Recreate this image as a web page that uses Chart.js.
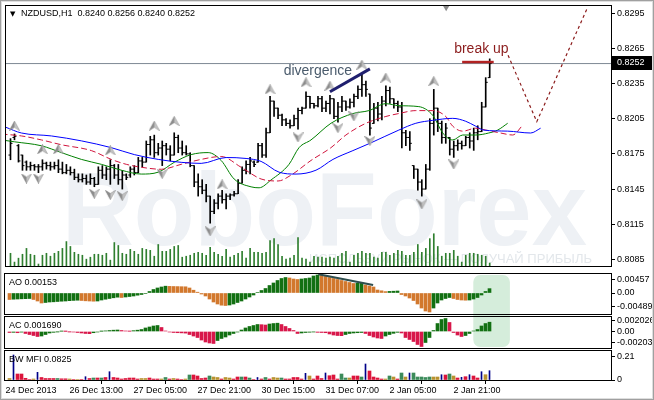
<!DOCTYPE html>
<html><head><meta charset="utf-8">
<script src="https://cdn.jsdelivr.net/npm/chart.js@4.4.1/dist/chart.umd.min.js"></script>
<style>
html,body{margin:0;padding:0;background:#fff;}
#wrap{position:relative;width:654px;height:400px;overflow:hidden;background:#fff;}
#wrap canvas{position:absolute;left:0;}
#frame{position:absolute;left:0;top:0;width:654px;height:400px;box-sizing:border-box;border:1px solid #a0a0a0;box-shadow:inset 0 0 0 1px #dedede;pointer-events:none;z-index:5;}
</style></head><body>
<div id="wrap">
<canvas id="bg" width="654" height="400" style="top:0;z-index:0"></canvas>
<canvas id="cMain" width="654" height="272" style="top:0;z-index:1"></canvas>
<canvas id="cAO" width="654" height="43" style="top:272px;z-index:1"></canvas>
<canvas id="cAC" width="654" height="34" style="top:315px;z-index:1"></canvas>
<canvas id="cMFI" width="654" height="51" style="top:349px;z-index:1"></canvas>
<div id="frame"></div>
</div>
<script>
// ---------------- DATA ----------------
const symbol = 'NZDUSD,H1';
const barOpen = [
.8174,.8189,.8182,.8174,.8168,.8164,.8165,.8164,.8164,.8167,
.8165,.8164,.8165,.8162,.8159,.8161,.8159,.8155,.8153,.8154,
.8151,.8154,.8149,.8161,.8157,.8162,.8165,.8157,.8153,.8157,
.8157,.8162,.8159,.8169,.8168,.8183,.8187,.8176,.8180,.8182,
.8179,.8174,.8189,.8180,.8176,.8175,.8165,.8151,.8147,.8144,
.8139,.8126,.8133,.8139,.8136,.8139,.8140,.8141,.8150,.8161,
.8166,.8168,.8168,.8182,.8174,.8193,.8220,.8214,.8208,.8204,
.8201,.8199,.8205,.8212,.8214,.8224,.8218,.8216,.8222,.8214,
.8218,.8222,.8207,.8215,.8220,.8215,.8219,.8224,.8230,.8234,
.8226,.8201,.8214,.8209,.8220,.8229,.8222,.8218,.8215,.8193,
.8189,.8165,.8162,.8151,.8145,.8162,.8201,.8214,.8201,.8189,
.8189,.8179,.8182,.8184,.8182,.8189,.8186,.8193,.8194,.8215,
.8240];
const barHigh = [
.8188,.8192,.8183,.8174,.8169,.8168,.8166,.8166,.8170,.8168,
.8168,.8168,.8170,.8168,.8166,.8164,.8162,.8158,.8158,.8157,
.8158,.8155,.8164,.8165,.8164,.8170,.8166,.8166,.8161,.8158,
.8164,.8165,.8172,.8172,.8186,.8190,.8191,.8184,.8186,.8184,
.8182,.8193,.8191,.8186,.8182,.8176,.8165,.8158,.8153,.8149,
.8139,.8136,.8141,.8144,.8141,.8141,.8143,.8153,.8164,.8169,
.8172,.8169,.8184,.8184,.8197,.8224,.8220,.8214,.8209,.8205,
.8204,.8208,.8214,.8215,.8228,.8224,.8218,.8224,.8224,.8220,
.8225,.8222,.8219,.8224,.8220,.8222,.8226,.8233,.8243,.8237,
.8226,.8218,.8219,.8224,.8233,.8232,.8222,.8220,.8219,.8195,
.8194,.8165,.8162,.8153,.8166,.8205,.8230,.8214,.8203,.8201,
.8189,.8186,.8187,.8186,.8190,.8193,.8197,.8199,.8219,.8240,
.8256];
const barLow = [
.8170,.8187,.8168,.8161,.8161,.8161,.8161,.8159,.8161,.8162,
.8161,.8162,.8159,.8158,.8158,.8157,.8153,.8151,.8151,.8149,
.8149,.8147,.8149,.8154,.8153,.8149,.8154,.8149,.8145,.8153,
.8155,.8157,.8159,.8164,.8168,.8174,.8172,.8174,.8165,.8174,
.8169,.8174,.8176,.8174,.8174,.8164,.8147,.8139,.8141,.8134,
.8116,.8124,.8128,.8133,.8128,.8136,.8139,.8141,.8150,.8158,
.8158,.8164,.8168,.8172,.8172,.8193,.8207,.8205,.8199,.8199,
.8197,.8199,.8196,.8209,.8214,.8214,.8214,.8215,.8211,.8211,
.8209,.8205,.8202,.8211,.8212,.8214,.8215,.8222,.8224,.8224,
.8191,.8201,.8203,.8204,.8216,.8218,.8214,.8211,.8180,.8182,
.8178,.8154,.8144,.8139,.8145,.8161,.8191,.8194,.8184,.8184,
.8174,.8172,.8178,.8179,.8182,.8180,.8178,.8187,.8194,.8215,
.8240];
const barClose = [
.8184,.8190,.8169,.8165,.8164,.8165,.8164,.8164,.8167,.8165,
.8164,.8165,.8162,.8159,.8161,.8159,.8155,.8153,.8154,.8151,
.8154,.8149,.8161,.8157,.8162,.8165,.8157,.8153,.8157,.8155,
.8162,.8159,.8169,.8168,.8183,.8187,.8176,.8180,.8182,.8179,
.8174,.8189,.8180,.8176,.8175,.8165,.8151,.8147,.8144,.8139,
.8126,.8133,.8139,.8136,.8139,.8140,.8141,.8150,.8161,.8166,
.8169,.8166,.8182,.8174,.8193,.8220,.8214,.8208,.8204,.8201,
.8199,.8205,.8212,.8214,.8224,.8218,.8216,.8222,.8214,.8218,
.8222,.8207,.8215,.8220,.8215,.8219,.8224,.8230,.8234,.8230,
.8197,.8214,.8209,.8220,.8229,.8222,.8218,.8215,.8193,.8189,
.8184,.8162,.8151,.8145,.8162,.8201,.8214,.8201,.8189,.8197,
.8179,.8182,.8184,.8182,.8189,.8186,.8193,.8194,.8215,.8236,
.8252];
const tickVolume = [
780,240,480,720,1080,720,660,120,660,780,
600,780,900,1080,1500,1200,840,720,660,420,
540,720,720,660,780,360,1440,1260,780,720,
1020,900,720,1080,1020,960,600,1320,900,900,
1020,1200,1260,540,600,660,780,840,780,660,
1140,840,720,600,1020,540,660,780,900,480,
1080,840,840,780,840,1560,1680,1320,600,420,
480,660,1740,480,420,240,600,540,540,480,
540,480,600,780,900,240,660,780,900,780,
780,540,480,840,840,660,780,960,900,660,
660,840,1320,840,1080,1680,1980,1200,600,780,
780,960,600,240,660,780,780,720,660,600,
180];
const priceTicks = [0.8085,0.8115,0.8145,0.8175,0.8205,0.8235,0.8265,0.8295];
const timeTickIndex = [-1,15,31,47,63,79,95,111];
const timeTickLabels = ['24 Dec 2013','26 Dec 13:00','27 Dec 05:00','27 Dec 21:00','30 Dec 15:00','31 Dec 07:00','2 Jan 05:00','2 Jan 21:00'];

// Alligator lines [bar index, price]
const jawLine = [[-1.25,.81978],[2.75,.81928],[10.25,.81903],[17.75,.81861],[25.25,.81803],[31,.81744],[37,.81703],[42.75,.81678],[47.75,.81669],[54,.81719],[59,.81711],[62.75,.81686],[67.25,.81594],[71.5,.81578],[76.5,.81611],[80.75,.81703],[85.75,.81778],[90.25,.81844],[97.25,.81953],[101.5,.82011],[105.75,.82036],[110.75,.82053],[114,.82028],[116.5,.81986],[118.5,.81953],[124.5,.81944],[130.25,.81928],[132.75,.81969]];
const teethLine = [[-2.25,.81919],[2.75,.81903],[7.75,.81869],[12.75,.81828],[20.25,.81778],[25.25,.81703],[29,.81661],[32.75,.81636],[37.75,.81619],[42.75,.81661],[47.75,.81703],[52.75,.81728],[57.75,.81636],[62.75,.81536],[67,.81519],[70.25,.81569],[75.25,.81694],[80.25,.81803],[84,.81911],[89,.82011],[94,.82069],[97.25,.82094],[101.5,.82119],[105.75,.82119],[109,.82069],[110.75,.81986],[113.25,.81944],[116.5,.81969],[119,.81953],[122.75,.81928],[125.75,.81911],[128.25,.81994]];
const lipsLine = [[-2.25,.81869],[1,.81853],[7.75,.81819],[12.75,.81761],[17.75,.81703],[22.75,.81661],[27.75,.81611],[32.75,.81578],[37,.81594],[41,.81678],[45.25,.81744],[49.5,.81761],[52.75,.81694],[56,.81536],[60.25,.81469],[62.25,.81461],[65.25,.81528],[69.75,.81661],[72.25,.81803],[75.25,.81869],[80.25,.82011],[85.75,.82094],[89.75,.82119],[94,.82178],[97.25,.82161],[102.25,.82153],[105.75,.82078],[108.25,.81928],[110.75,.81869],[113.25,.81911],[116.5,.81911],[119.75,.81928],[122,.81953],[124.5,.82011]];

const fractalUp = [[1,.8199],[8,.8179],[12,.8179],[25,.8178],[36,.8199],[41,.8203],[53,.8149],[65,.8230],[74,.8236],[80,.8233],[88,.8251],[94,.8240],[106,.8237]];
const fractalDown = [[4,.8154],[7,.8154],[21,.8141],[25,.8140],[28,.8139],[38,.8158],[50,.8109],[72,.8189],[82,.8197],[86,.8207],[90,.8186],[103,.8132],[111,.8166]];

const aoValues = [
-0.00228,-0.00218,-0.00211,-0.00204,-0.00200,-0.00193,-0.00228,-0.00281,-0.00351,-0.00333,
-0.00316,-0.00309,-0.00298,-0.00288,-0.00281,-0.00270,-0.00260,-0.00253,-0.00263,-0.00274,
-0.00281,-0.00288,-0.00281,-0.00246,-0.00218,-0.00193,-0.00168,-0.00147,-0.00158,-0.00140,
-0.00123,-0.00105,-0.00077,-0.00053,-0.00018,0.00053,0.00123,0.00176,0.00211,0.00239,
0.00232,0.00228,0.00225,0.00221,0.00218,0.00176,0.00098,0.00028,-0.00035,-0.00105,
-0.00211,-0.00316,-0.00386,-0.00428,-0.00439,-0.00421,-0.00386,-0.00333,-0.00281,-0.00211,
-0.00140,-0.00070,0.00018,0.00088,0.00158,0.00263,0.00351,0.00439,0.00509,0.00544,
0.00527,0.00491,0.00474,0.00491,0.00509,0.00527,0.00597,0.00632,0.00614,0.00579,
0.00544,0.00509,0.00474,0.00439,0.00404,0.00369,0.00333,0.00344,0.00351,0.00281,
0.00246,0.00211,0.00105,0.00077,0.00049,0.00056,0.00063,0.00070,-0.00053,-0.00105,
-0.00176,-0.00263,-0.00386,-0.00527,-0.00632,-0.00667,-0.00527,-0.00351,-0.00246,-0.00193,
-0.00158,-0.00193,-0.00228,-0.00246,-0.00253,-0.00246,-0.00211,-0.00158,-0.00070,0.00053,
0.00153];
const aoTicks = [-0.00489, 0, 0.00457];
const aoTickLabels = ['-0.00489','0.00','0.00457'];

const acValues = [
-0.00018,-0.00015,-0.00022,-0.00011,-0.00036,-0.00055,-0.00073,-0.00091,-0.00082,-0.00055,
-0.00027,-0.00015,-0.00005,0.00005,0.00002,-0.00004,-0.00009,-0.00018,-0.00027,-0.00036,
-0.00040,-0.00022,-0.00009,0.00004,0.00011,0.00018,0.00024,0.00027,0.00018,0.00009,
0.00004,0.00015,0.00024,0.00036,0.00064,0.00082,0.00100,0.00109,0.00073,0.00009,
-0.00009,-0.00018,-0.00022,-0.00025,-0.00029,-0.00055,-0.00082,-0.00109,-0.00155,-0.00191,
-0.00209,-0.00218,-0.00164,-0.00127,-0.00100,-0.00064,-0.00036,-0.00009,0.00027,0.00064,
0.00091,0.00109,0.00127,0.00124,0.00118,0.00136,0.00145,0.00151,0.00127,0.00091,
0.00055,0.00018,-0.00036,-0.00027,-0.00018,-0.00013,-0.00007,-0.00015,-0.00018,-0.00022,
-0.00045,-0.00064,-0.00073,-0.00076,-0.00055,-0.00036,-0.00027,-0.00022,-0.00018,-0.00036,
-0.00073,-0.00100,-0.00118,-0.00127,-0.00082,-0.00055,-0.00033,-0.00015,-0.00027,-0.00109,
-0.00145,-0.00182,-0.00236,-0.00273,-0.00200,-0.00109,0.00018,0.00145,0.00218,0.00236,
0.00164,-0.00018,-0.00064,-0.00091,-0.00073,-0.00036,0.00009,0.00036,0.00100,0.00145,
0.00169];
const acTicks = [-0.00203, 0, 0.002026];
const acTickLabels = ['-0.00203','0.00','0.002026'];

const mfiValues = [
0.0133,0.2218,0.0532,0.0532,0.0151,0.0044,0.0089,0.0683,0.0222,0.0133,
0.0133,0.0133,0.0133,0.0106,0.0106,0.0089,0.0044,0.0044,0.0044,0.0293,
0.0133,0.0177,0.0177,0.0177,0.0222,0.0736,0.0222,0.0177,0.0089,0.0133,
0.0177,0.0177,0.0089,0.0133,0.0133,0.0177,0.0089,0.0089,0.0089,0.0222,
0.0089,0.0133,0.0089,0.0044,0.0089,0.0444,0.0444,0.0355,0.0133,0.0177,
0.0355,0.0266,0.0222,0.0089,0.0222,0.0177,0.0089,0.0266,0.0266,0.0266,
0.0177,0.0044,0.0222,0.0089,0.0222,0.0089,0.0222,0.0177,0.0177,0.0089,
0.0089,0.0222,0.0222,0.0089,0.0594,0.0355,0.0089,0.0355,0.0133,0.0621,
0.0381,0.0444,0.0089,0.0532,0.0177,0.0177,0.0355,0.0355,0.0266,0.1419,
0.0798,0.0266,0.0177,0.0089,0.0089,0.0355,0.0266,0.0089,0.0621,0.0266,
0.0621,0.0621,0.0266,0.0266,0.0222,0.0266,0.0266,0.0266,0.0470,0.0444,
0.0532,0.0355,0.0177,0.0240,0.0293,0.0470,0.0355,0.0177,0.0736,0.0470,
0.0825];
// g = green, o = fade, b = fake, r = squat
const mfiKinds = ('obrrrrobrr'+'rrgrrororb'+'rgrgrbrrrr'+'rrroorrrog'+'rorrogrrrr'+'gooroorrgr'+
  'grbrgroogr'+'rrrrborrrb'+'rrrggorrgb'+'rrrrogorgo'+'bgggggoobr'+'gorbrbrrbo'+'b').split('');
const mfiTicks = [0, 0.21];
const mfiTickLabels = ['0','0.21'];

const bidPrice = 0.8252;
const divergenceLine = [[80.0,0.8228],[90.0,0.82475]];
const aoDivergenceLine = [[77.2,0.0066],[90.9,0.00281]];
const breakUpLine = [[113.1,0.82533],[121.0,0.82533]];
const forecastPath = [[124.6,0.8259],[131.8,0.82025],[144.3,0.82983]];
const divergenceText = {x:68.4, y:0.82455, text:'divergence'};
const breakUpText = {x:111.1, y:0.82644, text:'break up'};
const shiftMarker = [[109.1, 0.8300]];
const highlightRange = [115.95, 125.1];

// ---------------- CONFIG ----------------
const FONT = "'Liberation Sans', Arial, sans-serif";
const X_MIN = -1.125, X_MAX = 150.375;
const PRICE_MIN = 0.807942, PRICE_MAX = 0.830108;
const VOL_MAX = 15960;
const AO_MIN = -0.007368, AO_MAX = 0.006667;
const AC_MIN = -0.003, AC_MAX = 0.002636;
const MFI_MAX = 0.2573;
const AXIS_W = 43;

const C_UP = '#127012', C_AO_DN = '#d2782d', C_AC_DN = '#d8174a';
const MFI_COL = {g:'#3b8b5a', o:'#b8922e', r:'#dc143c', b:'#000088'};

const pts = arr => arr.map(([x, y]) => ({x, y}));
const idx = barOpen.map((_, i) => i);

function fractalImg(up) {
  const c = document.createElement('canvas'); c.width = 11; c.height = 10;
  const g = c.getContext('2d');
  if (!up) { g.translate(0, 10); g.scale(1, -1); }
  g.beginPath(); g.moveTo(5.5, 0.3); g.lineTo(10.6, 9.7); g.lineTo(5.5, 6.6); g.lineTo(0.4, 9.7); g.closePath();
  g.fillStyle = '#c4c4c4'; g.fill();
  g.beginPath(); g.moveTo(5.5, 0.3); g.lineTo(5.5, 6.6); g.lineTo(0.4, 9.7); g.closePath();
  g.fillStyle = '#8c8c8c'; g.fill();
  g.beginPath(); g.moveTo(5.5, 0.3); g.lineTo(10.6, 9.7); g.lineTo(5.5, 6.6); g.lineTo(0.4, 9.7); g.closePath();
  g.strokeStyle = '#888'; g.lineWidth = 0.5; g.stroke();
  return c;
}
const upImg = fractalImg(true), downImg = fractalImg(false);

function hiddenX() {
  return {type:'linear', min:X_MIN, max:X_MAX, offset:false, bounds:'data', display:false};
}
function rightY(min, max, ticks, labels) {
  return {
    type:'linear', position:'right', min, max, bounds:'data',
    afterBuildTicks: s => { s.ticks = ticks.map(v => ({value:v})); },
    afterFit: s => { s.width = AXIS_W; s.paddingTop = 0; s.paddingBottom = 0; },
    ticks: {callback: (v) => labels ? labels[ticks.indexOf(v)] : v.toFixed(4),
            font:{family:FONT, size:9}, color:'#000', padding:2, crossAlign:'near', autoSkip:false},
    grid: {drawOnChartArea:false, drawTicks:true, tickLength:4, color:'#000'},
    border: {display:false}
  };
}
function frame(ctx, a) {
  ctx.save();
  ctx.strokeStyle = '#000'; ctx.lineWidth = 1;
  ctx.strokeRect(a.left - 0.5, a.top - 0.5, a.right - a.left + 1, a.bottom - a.top + 1);
  ctx.restore();
}
const panelDecor = {
  id: 'panelDecor',
  afterDraw(chart, args, opts) {
    const {ctx, chartArea:a} = chart;
    frame(ctx, a);
    if (opts.label) {
      ctx.save();
      ctx.font = `9px ${FONT}`; ctx.fillStyle = '#000'; ctx.textBaseline = 'middle'; ctx.textAlign = 'left';
      ctx.fillText(opts.label, a.left + 4, a.top + opts.dy);
      ctx.restore();
    }
  }
};
const mainDecor = {
  id: 'mainDecor',
  beforeDatasetsDraw(chart) {
    const {ctx, chartArea:a} = chart;
    ctx.save();
    ctx.beginPath(); ctx.rect(a.left, a.top, a.right - a.left, a.bottom - a.top); ctx.clip();
    ctx.fillStyle = '#eef1f5';
    ctx.font = `bold 104px ${FONT}`; ctx.textBaseline = 'alphabetic'; ctx.textAlign = 'left';
    const wm = 'RoboForex';
    const w = ctx.measureText(wm).width;
    ctx.save(); ctx.translate(a.left + 56, a.top + 239); ctx.scale(525 / w, 1); ctx.fillText(wm, 0, 0); ctx.restore();
    ctx.fillStyle = '#e3e7eb';
    ctx.font = `12px ${FONT}`;
    const sl = 'ИСПОЛЬЗУЙ РЫНОК — ПОЛУЧАЙ ПРИБЫЛЬ';
    const w2 = ctx.measureText(sl).width;
    ctx.save(); ctx.translate(a.left + 303, a.top + 257); ctx.scale(283 / w2, 1); ctx.fillText(sl, 0, 0); ctx.restore();
    ctx.restore();
  },
  afterDraw(chart) {
    const {ctx, chartArea:a, scales:{x, y}} = chart;
    frame(ctx, a);
    ctx.save();
    // title
    ctx.fillStyle = '#000'; ctx.textBaseline = 'middle'; ctx.textAlign = 'left';
    ctx.font = `7px DejaVu Sans, ${FONT}`;
    ctx.fillText('▼', a.left + 4, a.top + 8);
    ctx.font = `9px ${FONT}`;
    const n = barClose.length - 1;
    const ohlc = [barOpen[n], barHigh[n], barLow[n], barClose[n]].map(v => v.toFixed(4)).join(' ');
    ctx.fillText(symbol + '  ' + ohlc, a.left + 15, a.top + 8);
    // annotations
    ctx.font = `14px ${FONT}`;
    ctx.fillStyle = '#4a5b6c';
    ctx.fillText(divergenceText.text, x.getPixelForValue(divergenceText.x), y.getPixelForValue(divergenceText.y));
    ctx.fillStyle = '#8b1c1c';
    ctx.fillText(breakUpText.text, x.getPixelForValue(breakUpText.x), y.getPixelForValue(breakUpText.y));
    // bid box
    const yb = Math.round(y.getPixelForValue(bidPrice)) - 1;
    ctx.fillStyle = '#000';
    ctx.fillRect(a.right + 1, yb - 7, 40, 14);
    ctx.fillStyle = '#fff'; ctx.font = `9px ${FONT}`;
    ctx.fillText(bidPrice.toFixed(4), a.right + 6, yb);
    ctx.restore();
  }
};

const common = {
  responsive:false, animation:false, devicePixelRatio:1, events:[],
  plugins:{legend:{display:false}, tooltip:{enabled:false}}
};

// ---------------- MAIN ----------------
const mainChart = new Chart(document.getElementById('cMain'), {
  type:'line',
  data:{datasets:[
    {type:'line', data:pts(divergenceLine), borderColor:'#1f1f6e', borderWidth:3, pointRadius:0, order:0},
    {type:'line', data:pts(breakUpLine), borderColor:'#b22222', borderWidth:2.5, pointRadius:0, order:0},
    {type:'line', data:pts(forecastPath), borderColor:'#8b1a1a', borderWidth:1.2, borderDash:[3,3], pointRadius:0, tension:0, order:0},
    {type:'line', data:pts(fractalUp), showLine:false, pointStyle:upImg, pointRadius:5, order:1},
    {type:'line', data:pts(fractalDown), showLine:false, pointStyle:downImg, pointRadius:5, order:1},
    {type:'line', data:pts(shiftMarker), showLine:false, pointStyle:'triangle', pointRotation:180, pointRadius:4,
      pointBackgroundColor:'#8a8a8a', pointBorderColor:'#8a8a8a', pointBorderWidth:0, clip:false, order:1},
    {type:'line', data:pts(jawLine), borderColor:'#0000ff', borderWidth:1, pointRadius:0, cubicInterpolationMode:'monotone', order:2},
    {type:'line', data:pts(teethLine), borderColor:'#d0143c', borderWidth:1, borderDash:[6,3], pointRadius:0, cubicInterpolationMode:'monotone', order:2},
    {type:'line', data:pts(lipsLine), borderColor:'#008000', borderWidth:1, pointRadius:0, cubicInterpolationMode:'monotone', order:2},
    {type:'bar', data:idx.map(i => ({x:i, y:[barLow[i], barHigh[i]]})), backgroundColor:'#000', barThickness:1, grouped:false, order:3},
    {type:'line', data:idx.map(i => ({x:i - 0.25, y:barOpen[i]})), showLine:false, pointStyle:'line', pointRadius:1,
      pointBorderColor:'#000', pointBorderWidth:1, order:3},
    {type:'line', data:idx.map(i => ({x:i + 0.25, y:barClose[i]})), showLine:false, pointStyle:'line', pointRadius:1,
      pointBorderColor:'#000', pointBorderWidth:1, order:3},
    {type:'line', data:[{x:X_MIN, y:bidPrice}, {x:X_MAX, y:bidPrice}], borderColor:'#7d8894', borderWidth:1, pointRadius:0, order:4},
    {type:'bar', yAxisID:'yv', data:idx.map(i => ({x:i, y:tickVolume[i]})), backgroundColor:'#2f7f2f', barThickness:1, grouped:false, order:5}
  ]},
  options:Object.assign({}, common, {
    layout:{padding:{left:5, right:0, top:5, bottom:1}},
    scales:{
      x:hiddenX(),
      y:rightY(PRICE_MIN, PRICE_MAX, priceTicks, null),
      yv:{type:'linear', display:false, min:0, max:VOL_MAX, bounds:'data'}
    }
  }),
  plugins:[mainDecor]
});

// ---------------- AO ----------------
const aoChart = new Chart(document.getElementById('cAO'), {
  type:'line',
  data:{datasets:[
    {type:'line', data:pts(aoDivergenceLine), borderColor:'#2f4f4f', borderWidth:2, pointRadius:0, order:0},
    {type:'bar', data:aoValues.map((v, i) => ({x:i, y:v})),
      backgroundColor:aoValues.map((v, i) => (i > 0 && v > aoValues[i - 1]) ? C_UP : C_AO_DN),
      barThickness:3, grouped:false, order:1}
  ]},
  options:Object.assign({}, common, {
    layout:{padding:{left:5, right:0, top:2, bottom:1}},
    plugins:Object.assign({}, common.plugins, {panelDecor:{label:'AO ' + aoValues[aoValues.length - 1].toFixed(5), dy:9}}),
    scales:{x:hiddenX(), y:rightY(AO_MIN, AO_MAX, aoTicks, aoTickLabels)}
  }),
  plugins:[panelDecor]
});

// ---------------- AC ----------------
const acChart = new Chart(document.getElementById('cAC'), {
  type:'line',
  data:{datasets:[
    {type:'bar', data:acValues.map((v, i) => ({x:i, y:v})),
      backgroundColor:acValues.map((v, i) => (i > 0 && v > acValues[i - 1]) ? C_UP : C_AC_DN),
      barThickness:3, grouped:false}
  ]},
  options:Object.assign({}, common, {
    layout:{padding:{left:5, right:0, top:2, bottom:1}},
    plugins:Object.assign({}, common.plugins, {panelDecor:{label:'AC ' + acValues[acValues.length - 1].toFixed(6), dy:9}}),
    scales:{x:hiddenX(), y:rightY(AC_MIN, AC_MAX, acTicks, acTickLabels)}
  }),
  plugins:[panelDecor]
});

// ---------------- BW MFI ----------------
const mfiX = {
  type:'linear', min:X_MIN, max:X_MAX, offset:false, bounds:'data', position:'bottom',
  afterBuildTicks: s => { s.ticks = timeTickIndex.map(v => ({value:v})); },
  afterFit: s => { s.height = 20; s.paddingLeft = 0; s.paddingRight = 0; },
  ticks:{callback:(v) => timeTickLabels[timeTickIndex.indexOf(v)], align:'start', maxRotation:0, minRotation:0,
         autoSkip:false, font:{family:FONT, size:9}, color:'#000', padding:1},
  grid:{drawOnChartArea:false, drawTicks:true, tickLength:4, color:'#000'},
  border:{display:false}
};
const mfiChart = new Chart(document.getElementById('cMFI'), {
  type:'line',
  data:{datasets:[
    {type:'bar', data:mfiValues.map((v, i) => ({x:i, y:mfiKinds[i] === 'b' ? v : null})),
      backgroundColor:MFI_COL.b, barThickness:1, grouped:false},
    {type:'bar', data:mfiValues.map((v, i) => ({x:i, y:mfiKinds[i] !== 'b' ? v : null})),
      backgroundColor:mfiKinds.map(k => MFI_COL[k]), barThickness:3, grouped:false}
  ]},
  options:Object.assign({}, common, {
    layout:{padding:{left:5, right:0, top:2, bottom:0}},
    plugins:Object.assign({}, common.plugins, {panelDecor:{label:'BW MFI ' + mfiValues[mfiValues.length - 1].toFixed(4), dy:9}}),
    scales:{x:mfiX, y:rightY(0, MFI_MAX, mfiTicks, mfiTickLabels)}
  }),
  plugins:[panelDecor]
});

// ---------------- highlight box (background) ----------------
(function () {
  const bg = document.getElementById('bg').getContext('2d');
  const aoTop = document.getElementById('cAO').offsetTop;
  const acTop = document.getElementById('cAC').offsetTop;
  const x0 = aoChart.scales.x.getPixelForValue(highlightRange[0]);
  const x1 = aoChart.scales.x.getPixelForValue(highlightRange[1]);
  const y0 = aoTop + aoChart.chartArea.top + 1;
  const y1 = acTop + acChart.chartArea.bottom - 1;
  bg.fillStyle = '#d5eddb';
  bg.beginPath();
  if (bg.roundRect) bg.roundRect(x0, y0, x1 - x0, y1 - y0, 7); else bg.rect(x0, y0, x1 - x0, y1 - y0);
  bg.fill();
})();
</script>
</body></html>
